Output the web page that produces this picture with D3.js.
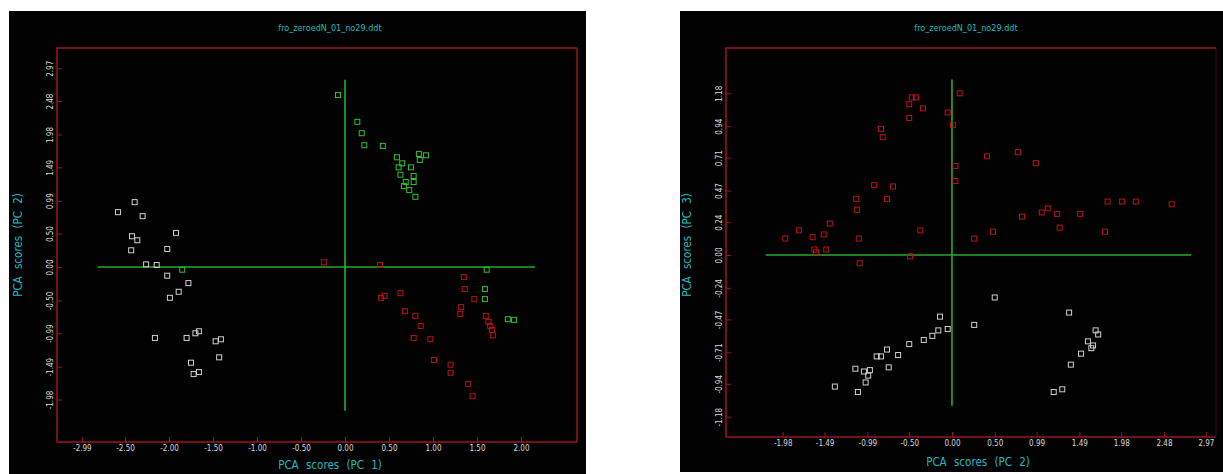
<!DOCTYPE html>
<html>
<head>
<meta charset="utf-8">
<script src="https://cdn.jsdelivr.net/npm/d3@7"></script>
<style>
  body { margin: 0; background: #fff; }
  svg { display: block; }
  .tick text { font-family: "Liberation Sans Narrow", "DejaVu Sans Condensed", sans-serif; font-size: 8px; fill: #d8d8d8; }
  .lbl { font-family: "Liberation Sans Narrow", "DejaVu Sans Condensed", sans-serif; fill: #20b8c0; }
</style>
</head>
<body>
<div id="chart"></div>
<script>
let width = 1223, height = 474;

// tick labels as printed by the original software
let xTicks1 = [-2.99, -2.50, -2.00, -1.50, -1.00, -0.50, 0.00, 0.50, 1.00, 1.50, 2.00];
let yTicks1 = [-1.98, -1.49, -0.99, -0.50, 0.00, 0.50, 0.99, 1.49, 1.98, 2.48, 2.97];
let xTicks2 = [-1.98, -1.49, -0.99, -0.50, 0.00, 0.50, 0.99, 1.49, 1.98, 2.48, 2.97];
let yTicks2 = [-1.18, -0.94, -0.71, -0.47, -0.24, 0.00, 0.24, 0.47, 0.71, 0.94, 1.18];

// PC1 vs PC2 scores  [pc1, pc2]
let green12 = [
  [-0.08, 2.57], [0.14, 2.17], [0.19, 2.00], [0.22, 1.82], [0.43, 1.81],
  [0.59, 1.64], [0.65, 1.55], [0.84, 1.69], [0.92, 1.67], [0.85, 1.60],
  [0.61, 1.49], [0.75, 1.49], [0.63, 1.38], [0.78, 1.36], [0.69, 1.27],
  [0.78, 1.27], [0.67, 1.21], [0.73, 1.15], [0.80, 1.05],
  [1.61, -0.04], [1.59, -0.33], [1.59, -0.48], [1.85, -0.78], [1.92, -0.79],
  [-1.85, -0.04]
];
let red12 = [
  [-0.24, 0.07], [0.40, 0.03], [0.41, -0.46], [0.45, -0.43], [0.63, -0.39],
  [0.68, -0.66], [0.80, -0.73], [0.86, -0.88], [0.78, -1.06], [0.97, -1.08],
  [1.01, -1.39], [1.20, -1.46], [1.20, -1.58], [1.40, -1.75], [1.45, -1.93],
  [1.35, -0.15], [1.36, -0.33], [1.47, -0.48], [1.32, -0.60], [1.31, -0.70],
  [1.60, -0.73], [1.63, -0.82], [1.65, -0.88], [1.67, -0.94], [1.68, -1.02]
];
let white12 = [
  [-2.39, 0.97], [-2.58, 0.82], [-2.30, 0.76], [-1.92, 0.51], [-2.42, 0.46],
  [-2.36, 0.40], [-2.43, 0.25], [-2.02, 0.27], [-2.26, 0.04], [-2.14, 0.03],
  [-2.02, -0.13], [-1.78, -0.24], [-1.89, -0.37], [-1.99, -0.46], [-2.16, -1.06],
  [-1.80, -1.06], [-1.70, -0.99], [-1.66, -0.96], [-1.47, -1.11], [-1.41, -1.08],
  [-1.43, -1.35], [-1.75, -1.43], [-1.72, -1.60], [-1.66, -1.57]
];

// PC2 vs PC3 scores  [pc2, pc3]
let red23 = [
  [-0.47, 1.15], [-0.42, 1.15], [-0.50, 1.10], [-0.34, 1.07], [0.09, 1.18],
  [-0.05, 1.04], [0.01, 0.95], [-0.50, 1.00], [-0.83, 0.92], [-0.81, 0.86],
  [0.41, 0.72], [0.77, 0.75], [0.98, 0.67], [0.04, 0.65], [0.04, 0.54],
  [-0.91, 0.51], [-0.69, 0.50], [-1.12, 0.41], [-0.76, 0.41], [-1.11, 0.33],
  [-1.43, 0.23], [-1.79, 0.18], [-1.95, 0.12], [-1.63, 0.13], [-1.50, 0.15],
  [-1.09, 0.12], [-0.37, 0.18], [-1.61, 0.04], [-1.59, 0.02], [-1.47, 0.04],
  [-1.08, -0.06], [-0.49, -0.01], [0.26, 0.12], [0.48, 0.17], [0.82, 0.28],
  [1.05, 0.31], [1.12, 0.34], [1.23, 0.30], [1.26, 0.20], [1.50, 0.30],
  [1.79, 0.17], [1.82, 0.39], [1.99, 0.39], [2.15, 0.39], [2.57, 0.37]
];
let white23 = [
  [0.50, -0.31], [-0.14, -0.45], [1.37, -0.42], [-0.05, -0.54], [-0.16, -0.55],
  [-0.23, -0.59], [-0.33, -0.62], [-0.50, -0.65], [-0.63, -0.73], [-0.76, -0.69],
  [-0.88, -0.74], [-0.83, -0.74], [-0.74, -0.82], [-0.96, -0.84], [-1.03, -0.85],
  [-0.98, -0.88], [-1.13, -0.83], [-1.01, -0.93], [-1.37, -0.96], [-1.10, -1.00],
  [0.26, -0.51], [1.68, -0.55], [1.71, -0.58], [1.59, -0.63], [1.65, -0.66],
  [1.63, -0.68], [1.51, -0.72], [1.39, -0.80], [1.29, -0.98], [1.19, -1.00]
];

// extent of the zero cross lines  [xmin, xmax, ymin, ymax]
let cross12 = [-2.81, 2.16, -2.15, 2.80];
let cross23 = [-2.18, 2.80, -1.10, 1.28];

let svg = d3.select("#chart").append("svg")
  .attr("width", width)
  .attr("height", height);

let colRed = "#b8141c", colGreen = "#2fc42f", colWhite = "#d0d0d0";
let frameCol = "#9a1620";

function panel(p) {
  let g = svg.append("g");

  g.append("rect")
    .attr("x", p.bg[0]).attr("y", p.bg[1])
    .attr("width", p.bg[2]).attr("height", p.bg[3])
    .attr("fill", "#020202");

  let x = d3.scaleLinear().domain(p.xDom).range(p.xRange);
  let y = d3.scaleLinear().domain(p.yDom).range(p.yRange);

  // frame: top, left, bottom; right side may be faint
  g.append("path")
    .attr("d", `M${p.frame[2]},${p.frame[1]}H${p.frame[0]}V${p.frame[3]}H${p.frame[2]}`)
    .attr("fill", "none")
    .attr("stroke", frameCol)
    .attr("stroke-width", 1.5);
  g.append("line")
    .attr("x1", p.frame[2]).attr("x2", p.frame[2])
    .attr("y1", p.frame[1]).attr("y2", p.frame[3])
    .attr("stroke", frameCol)
    .attr("stroke-opacity", p.rightOpacity)
    .attr("stroke-width", 1.5);

  let xAxis = g.append("g")
    .attr("transform", `translate(0,${p.frame[3]})`)
    .call(d3.axisBottom(x).tickValues(p.xTicks).tickSize(-5).tickPadding(3)
      .tickFormat(d => d.toFixed(2)));
  xAxis.select(".domain").remove();
  xAxis.selectAll(".tick line").attr("stroke", frameCol);

  let yAxis = g.append("g")
    .attr("transform", `translate(${p.frame[0]},0)`)
    .call(d3.axisLeft(y).tickValues(p.yTicks).tickSize(-5)
      .tickFormat(d => d.toFixed(2)));
  yAxis.select(".domain").remove();
  yAxis.selectAll(".tick line").attr("stroke", frameCol);
  yAxis.selectAll(".tick text")
    .attr("x", 0).attr("dy", null)
    .attr("text-anchor", "middle")
    .attr("transform", "translate(-4,0) rotate(-90)");

  // zero cross
  g.append("line")
    .attr("x1", x(p.cross[0])).attr("x2", x(p.cross[1]))
    .attr("y1", y(0)).attr("y2", y(0))
    .attr("stroke", "#26a826").attr("stroke-width", 1.5);
  g.append("line")
    .attr("x1", x(0)).attr("x2", x(0))
    .attr("y1", y(p.cross[2])).attr("y2", y(p.cross[3]))
    .attr("stroke", "#26b826").attr("stroke-width", 1.5);

  p.series.forEach(s => {
    g.selectAll(null)
      .data(s.data)
      .enter().append("rect")
      .attr("x", d => x(d[0]) - 2.5)
      .attr("y", d => y(d[1]) - 2.5)
      .attr("width", 5).attr("height", 5)
      .attr("fill", "none")
      .attr("stroke", s.color)
      .attr("stroke-width", 1);
  });

  g.append("text")
    .attr("class", "lbl")
    .attr("x", p.title[0]).attr("y", p.title[1])
    .attr("text-anchor", "middle")
    .style("font-size", "9px")
    .text("fro_zeroedN_01_no29.ddt");

  g.append("text")
    .attr("class", "lbl")
    .attr("x", p.xLab[0]).attr("y", p.xLab[1])
    .attr("text-anchor", "middle")
    .style("font-size", "11.5px")
    .attr("word-spacing", "4px")
    .text(p.xLabel);

  g.append("text")
    .attr("class", "lbl")
    .attr("transform", `translate(${p.yLab[0]},${p.yLab[1]}) rotate(-90)`)
    .attr("text-anchor", "middle")
    .style("font-size", "11.5px")
    .attr("word-spacing", "4px")
    .text(p.yLabel);
}

panel({
  bg: [9, 11, 577, 463],
  frame: [57, 48, 577, 442],
  rightOpacity: 1,
  xDom: [-3, 2], xRange: [81, 521],
  yDom: [-1.98, 2.97], yRange: [399.5, 68.3],
  xTicks: xTicks1, yTicks: yTicks1,
  cross: cross12,
  series: [
    { data: white12, color: colWhite },
    { data: red12, color: colRed },
    { data: green12, color: colGreen }
  ],
  title: [330, 31],
  xLab: [330, 469], xLabel: "PCA scores (PC 1)",
  yLab: [22, 245], yLabel: "PCA scores (PC 2)"
});

panel({
  bg: [680, 11, 543, 461],
  frame: [726, 48, 1216, 437],
  rightOpacity: 0.25,
  xDom: [-1.98, 2.97], xRange: [782.7, 1205.9],
  yDom: [-1.18, 1.18], yRange: [416.7, 93.3],
  xTicks: xTicks2, yTicks: yTicks2,
  cross: cross23,
  series: [
    { data: white23, color: colWhite },
    { data: red23, color: colRed }
  ],
  title: [966, 31],
  xLab: [978, 466], xLabel: "PCA scores (PC 2)",
  yLab: [691, 245], yLabel: "PCA scores (PC 3)"
});
</script>
</body>
</html>
